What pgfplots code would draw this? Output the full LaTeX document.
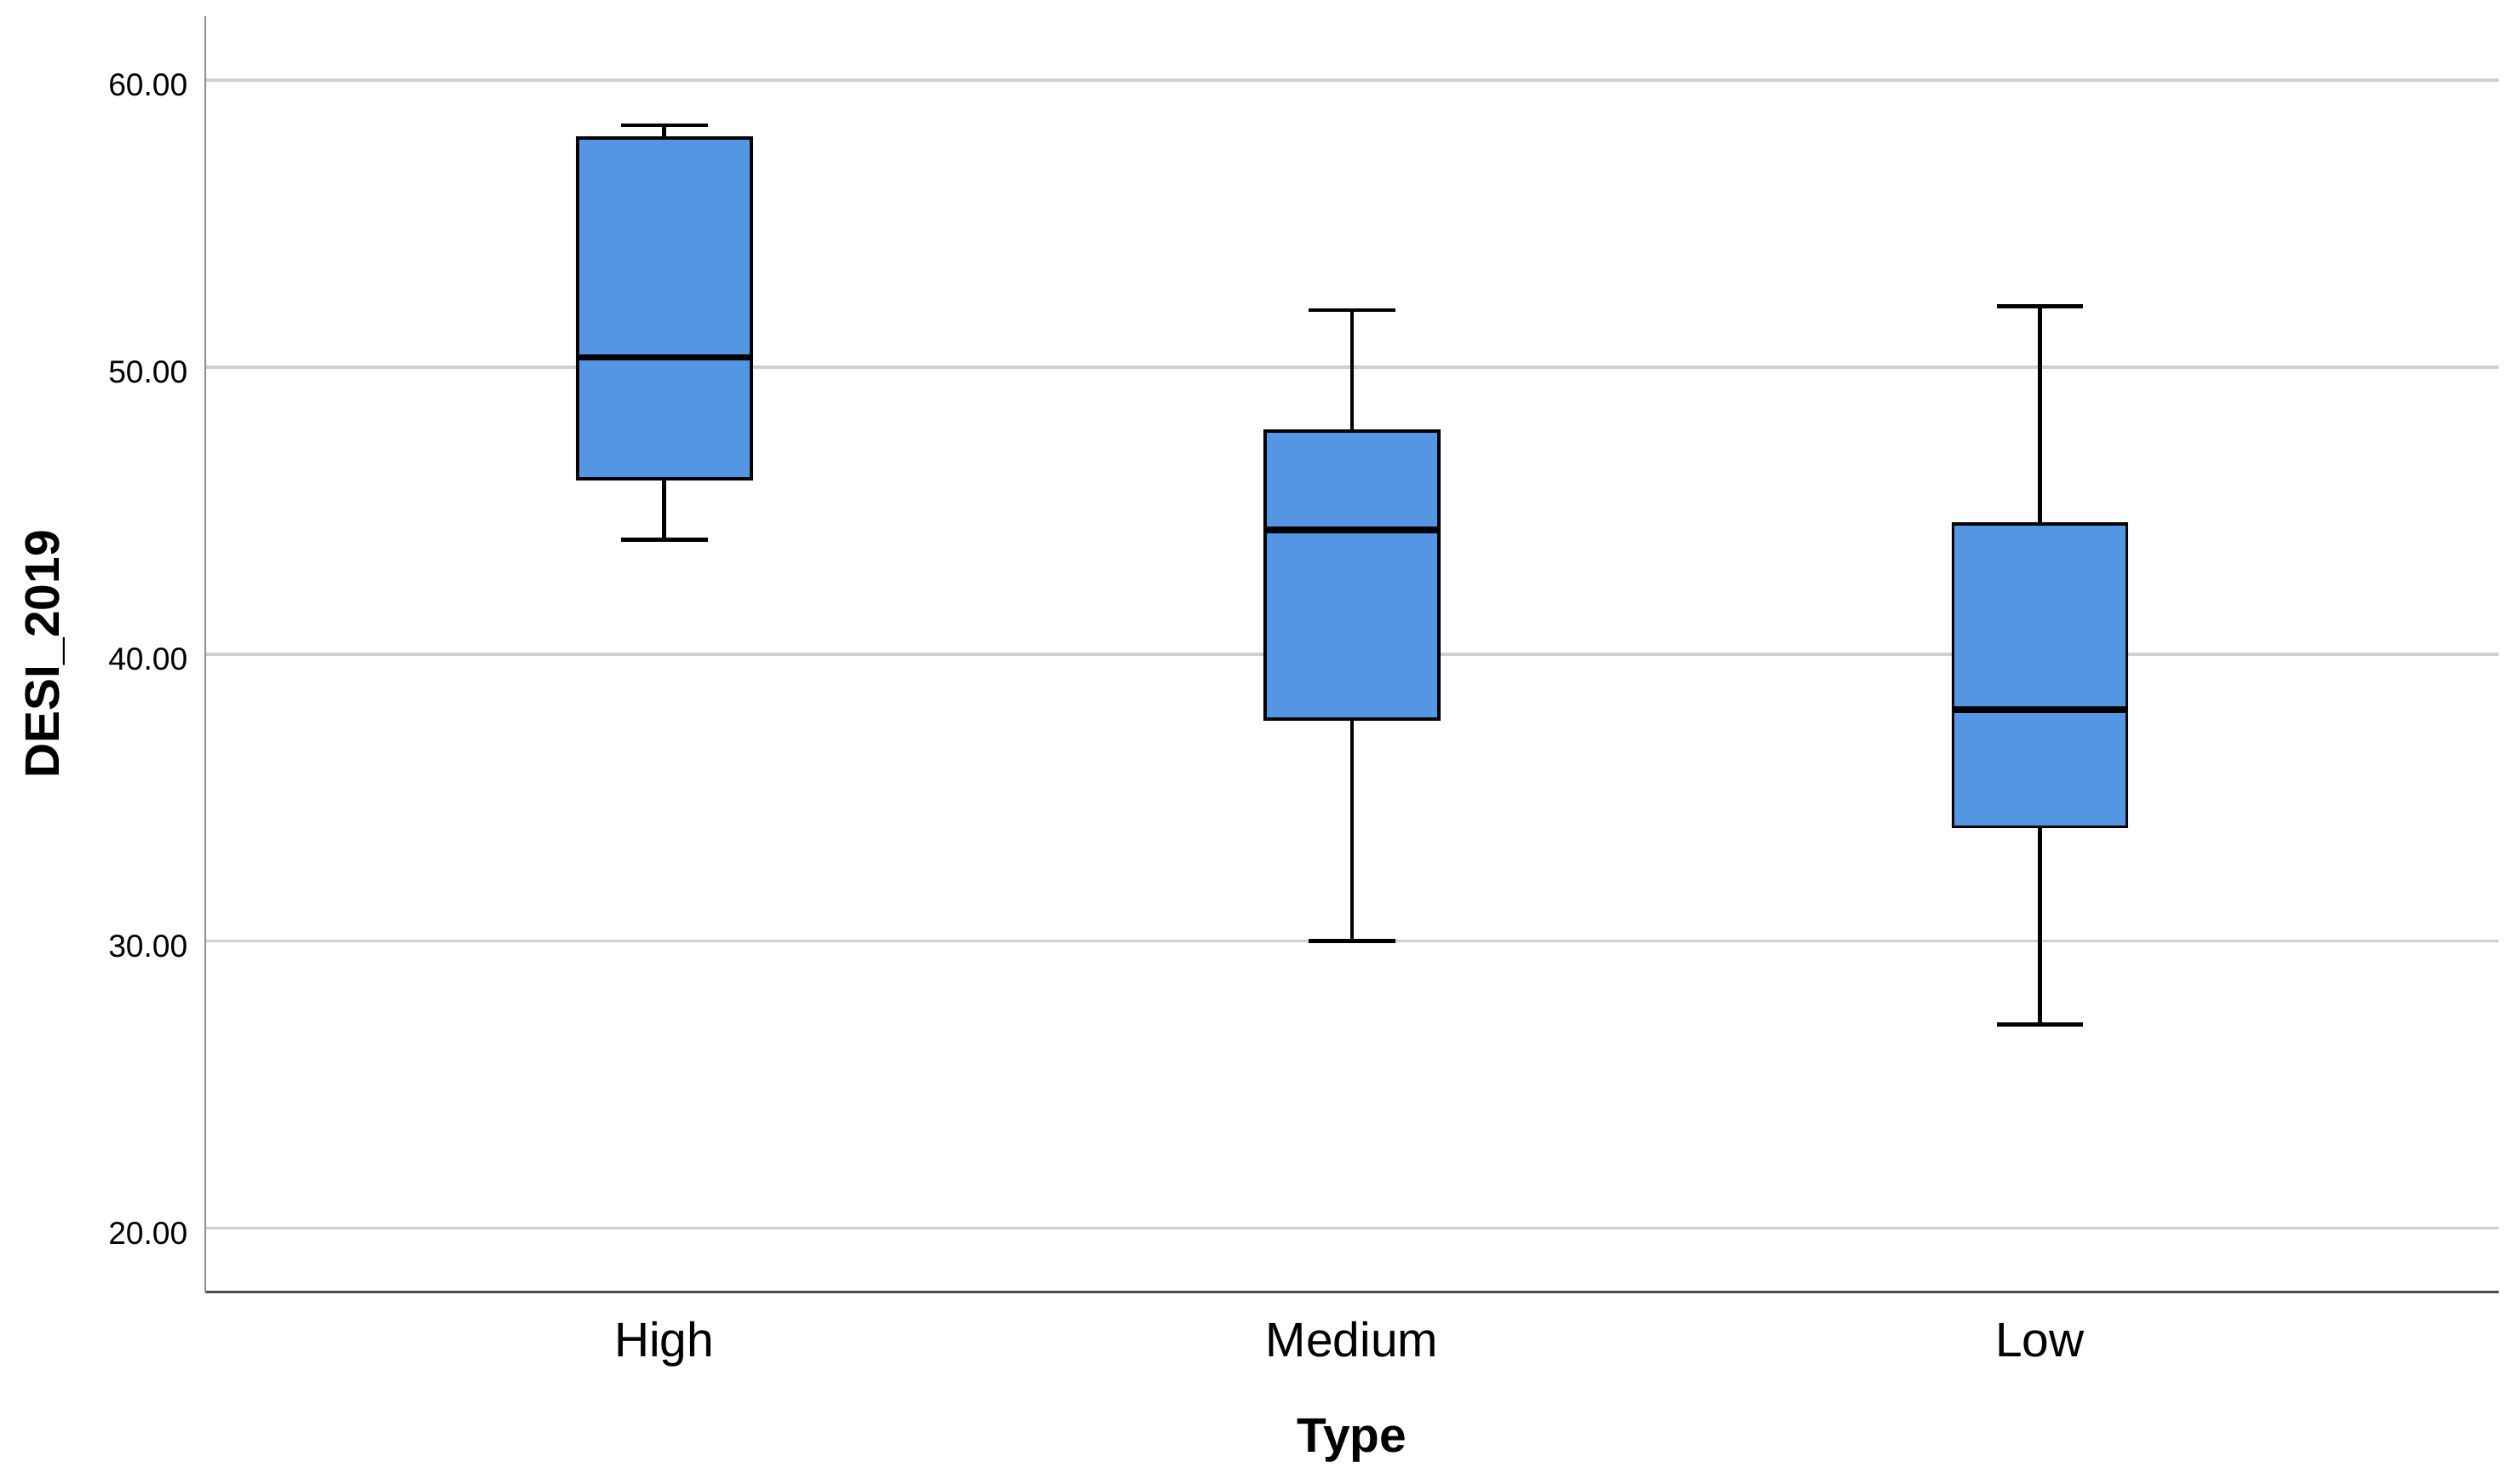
\documentclass[border=0pt]{standalone}
\usepackage{pgfplots}
\pgfplotsset{compat=1.18}
\usepgfplotslibrary{statistics}
\usepackage{fontspec}
\setmainfont{Liberation Sans}
\definecolor{boxblue}{RGB}{84,150,228}
\definecolor{gridgray}{RGB}{208,208,208}
\begin{document}
\begin{tikzpicture}
\begin{axis}[
  scale only axis, width=710pt, height=395pt,
  xmin=0.333, xmax=3.667, ymin=17.77, ymax=62.23,
  axis x line*=bottom, axis y line*=left,
  x axis line style={draw=black!70, line width=0.7pt, -},
  y axis line style={draw=black!45, line width=0.7pt, -},
  xtick={1,2,3}, xticklabels={High,Medium,Low},
  ytick={20,30,40,50,60},
  major tick length=0pt,
  ymajorgrids, grid style={gridgray, line width=1pt},
  /pgf/number format/.cd, fixed, fixed zerofill, precision=2, assume math mode=true,
  /pgfplots/.cd,
  yticklabel style={font=\fontsize{9.8}{10}\selectfont, anchor=east, inner sep=0pt, xshift=-5.3pt, yshift=-1.6pt},
  xticklabel style={font=\fontsize{15}{15}\selectfont, anchor=base, inner sep=0pt, yshift=-20pt},
  xlabel={\bfseries Type},
  ylabel={\bfseries DESI\_2019},
  xlabel style={font=\fontsize{15}{15}\selectfont, at={(axis description cs:0.5,-0.1256)}, anchor=base, inner sep=0pt},
  ylabel style={font=\fontsize{15}{15}\selectfont, at={(axis description cs:-0.0637,0.5)}, anchor=base, rotate=0, inner sep=0pt},
  boxplot/draw direction=y,
  boxplot/box extend=0.2526,
  boxplot/whisker extend=0.126,
  boxplot/every box/.style={draw=black, line width=1pt, fill=boxblue},
  boxplot/every median/.style={draw=black, line width=2pt},
  boxplot/every whisker/.style={draw=black, line width=1.2pt},
]
\addplot+[solid, mark=none, draw=black, boxplot prepared={draw position=1,
  lower whisker=43.98, lower quartile=46.10, median=50.34,
  upper quartile=57.99, upper whisker=58.43}] coordinates {};
\addplot+[solid, mark=none, draw=black, boxplot prepared={draw position=2,
  lower whisker=30.00, lower quartile=37.73, median=44.32,
  upper quartile=47.76, upper whisker=51.98}] coordinates {};
\addplot+[solid, mark=none, draw=black, boxplot prepared={draw position=3,
  lower whisker=27.09, lower quartile=33.98, median=38.06,
  upper quartile=44.53, upper whisker=52.12}] coordinates {};
\end{axis}
\pgfresetboundingbox
\path ([xshift=-63.6pt,yshift=-57.7pt]current axis.south west) rectangle ([xshift=6.6pt,yshift=5pt]current axis.north east);
\end{tikzpicture}
\end{document}
